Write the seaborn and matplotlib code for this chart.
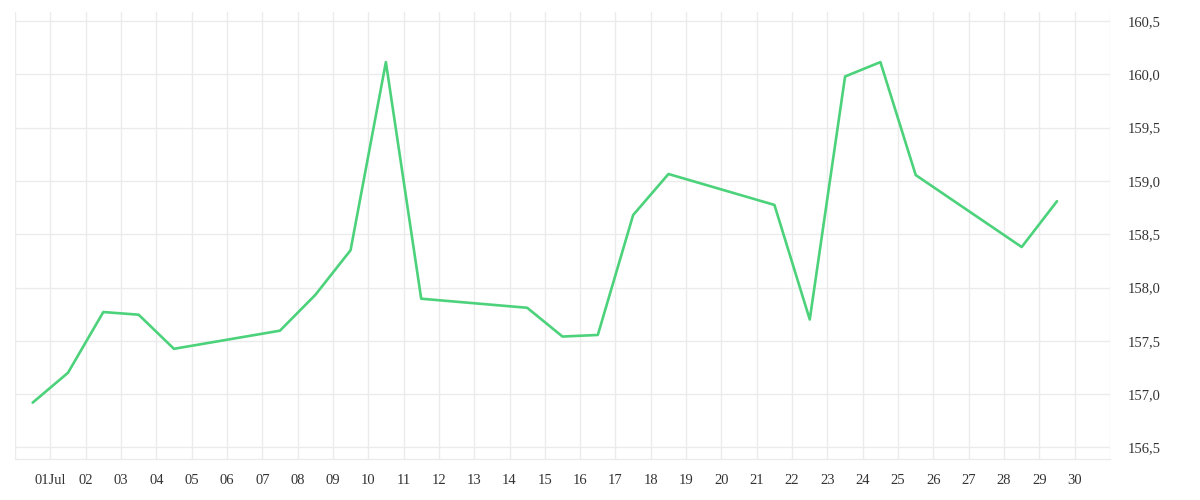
import datetime as dt
import pandas as pd
import matplotlib
matplotlib.use("Agg")
import matplotlib.pyplot as plt
import matplotlib.dates as mdates
from matplotlib.ticker import FuncFormatter, MultipleLocator
import seaborn as sns

# Values (one point per trading day, placed at noon)
days = ["2024-06-30", "2024-07-01", "2024-07-02", "2024-07-03", "2024-07-04",
        "2024-07-07", "2024-07-08", "2024-07-09", "2024-07-10", "2024-07-11",
        "2024-07-14", "2024-07-15", "2024-07-16", "2024-07-17", "2024-07-18",
        "2024-07-21", "2024-07-22", "2024-07-23", "2024-07-24", "2024-07-25",
        "2024-07-28", "2024-07-29"]
price = [156.92, 157.20, 157.77, 157.745, 157.425,
         157.595, 157.93, 158.35, 160.115, 157.895,
         157.81, 157.54, 157.555, 158.68, 159.065,
         158.775, 157.70, 159.98, 160.115, 159.055,
         158.38, 158.81]

df = pd.DataFrame({"date": pd.to_datetime(days) + pd.Timedelta(hours=12),
                   "price": price})

sns.set_style("white")
plt.rcParams["font.family"] = ["Liberation Serif", "DejaVu Serif"]

grid_col = "#ebebeb"
text_col = "#333333"

fig = plt.figure(figsize=(12, 5), dpi=100)
ax = fig.add_axes([0.0125, 0.0826, 0.9125, 0.8934])

sns.lineplot(data=df, x="date", y="price", ax=ax, color="#4cd27b", linewidth=1.9)

ax.set_xlim(dt.datetime(2024, 6, 30), dt.datetime(2024, 7, 31))
ax.set_ylim(156.394, 160.585)

ax.xaxis.set_major_locator(mdates.DayLocator())

def day_label(x, pos):
    d = mdates.num2date(x)
    if d.month != 7 or d.day > 30:
        return ""
    return "01Jul" if d.day == 1 else d.strftime("%d")

ax.xaxis.set_major_formatter(FuncFormatter(day_label))
ax.yaxis.set_major_locator(MultipleLocator(0.5))
ax.yaxis.set_major_formatter(FuncFormatter(lambda v, p: f"{v:.1f}".replace(".", ",")))

ax.yaxis.tick_right()
ax.tick_params(axis="x", length=7.2, width=1, color=grid_col, pad=4,
               labelsize=10.5, labelcolor=text_col)
ax.tick_params(axis="y", length=0, pad=12.7, labelsize=10.5, labelcolor=text_col)
for lbl in ax.get_yticklabels():
    lbl.set_horizontalalignment("left")

ax.grid(True, color=grid_col, linewidth=1)
for side in ["top", "left", "right"]:
    ax.spines[side].set_visible(False)
ax.spines["bottom"].set_color(grid_col)
ax.spines["bottom"].set_linewidth(1)

ax.set_xlabel("")
ax.set_ylabel("")

fig.savefig("out.png", dpi=100)
